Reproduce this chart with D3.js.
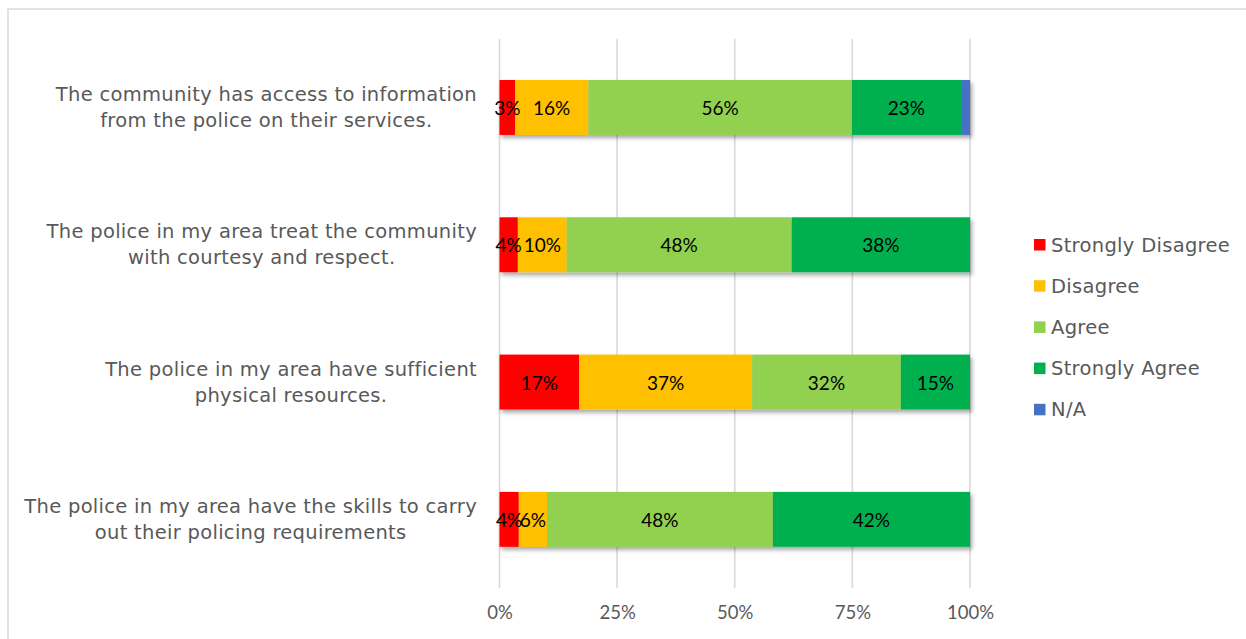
<!DOCTYPE html>
<html>
<head>
<meta charset="utf-8">
<script src="https://cdn.jsdelivr.net/npm/d3@7"></script>
<style>
  html, body { margin: 0; padding: 0; background: #fff; }
  svg { display: block; }
</style>
</head>
<body>
<svg id="chart" width="1246" height="639"></svg>
<script>
// Survey statements (top to bottom), each split into two display lines
const categories = [
  "The community has access to information from the police on their services.",
  "The police in my area treat the community with courtesy and respect.",
  "The police in my area have sufficient physical resources.",
  "The police in my area have the skills to carry out their policing requirements"
];
const categoryLines = [
  ["The community has access to information", "from the police on their services."],
  ["The police in my area treat the community", "with courtesy and respect."],
  ["The police in my area have sufficient", "physical resources."],
  ["The police in my area have the skills to carry", "out their policing requirements"]
];

// Response series (percent of respondents per statement)
const seriesNames = ["Strongly Disagree", "Disagree", "Agree", "Strongly Agree", "N/A"];
const stronglyDisagree = [3.3, 3.9, 16.9, 4.1];
const disagree         = [15.6, 10.4, 36.8, 6.0];
const agree            = [56.0, 47.8, 31.6, 48.0];
const stronglyAgree    = [23.2, 37.9, 14.7, 41.9];
const notApplicable    = [1.9, 0, 0, 0];

const seriesColors = ["#FF0000", "#FFC000", "#92D050", "#00B050", "#4472C4"];
const tickValues = [0, 25, 50, 75, 100];

const seriesValues = [stronglyDisagree, disagree, agree, stronglyAgree, notApplicable];
const rows = categories.map((c, i) => {
  const r = { category: c };
  seriesNames.forEach((s, j) => { r[s] = seriesValues[j][i]; });
  return r;
});
const stacked = d3.stack().keys(seriesNames)(rows);

const svg = d3.select("#chart");

// chart-area frame
svg.append("rect")
  .attr("x", 8).attr("y", 9)
  .attr("width", 1260).attr("height", 660)
  .attr("fill", "#fff")
  .attr("stroke", "#d9d9d9").attr("stroke-width", 1.5);

const defs = svg.append("defs");
const shadow = defs.append("filter").attr("id", "barShadow")
  .attr("x", "-5%").attr("y", "-20%").attr("width", "115%").attr("height", "150%");
shadow.append("feDropShadow")
  .attr("dx", 2).attr("dy", 3).attr("stdDeviation", 2.2)
  .attr("flood-color", "#000").attr("flood-opacity", 0.35);

const x = d3.scaleLinear().domain([0, 100]).range([499.5, 970]);
const y = d3.scaleBand().domain(categories).range([38.8, 588]).paddingInner(0.6).paddingOuter(0.3);

// vertical gridlines
svg.append("g").selectAll("line").data(tickValues).join("line")
  .attr("x1", d => x(d)).attr("x2", d => x(d))
  .attr("y1", 38.8).attr("y2", 588)
  .attr("stroke", "#d9d9d9").attr("stroke-width", 1.6);

// axis tick labels
const xAxis = d3.axisBottom(x).tickValues(tickValues).tickFormat(d => d + "%").tickSize(0).tickPadding(0);
const gx = svg.append("g").attr("transform", "translate(0,606)").call(xAxis);
gx.select(".domain").remove();
gx.selectAll("text")
  .attr("dy", "0.71em")
  .attr("fill", "#595959")
  .style("font-family", "Lato, 'Open Sans', sans-serif")
  .style("font-size", "18.5px");

// stacked bars
const barGroup = svg.append("g").attr("filter", "url(#barShadow)");
barGroup.selectAll("g").data(stacked).join("g")
  .attr("fill", (d, i) => seriesColors[i])
  .selectAll("rect").data(d => d.map(v => ({ v, cat: v.data.category })))
  .join("rect")
  .attr("x", d => x(d.v[0]))
  .attr("width", d => Math.max(0, x(d.v[1]) - x(d.v[0])))
  .attr("y", d => y(d.cat))
  .attr("height", y.bandwidth());

// data labels (not shown for N/A)
const labelGroup = svg.append("g");
stacked.forEach((s, i) => {
  if (seriesNames[i] === "N/A") return;
  labelGroup.selectAll(null).data(s.filter(d => d[1] - d[0] > 0)).join("text")
    .attr("x", d => (x(d[0]) + x(d[1])) / 2)
    .attr("y", d => y(d.data.category) + y.bandwidth() / 2)
    .attr("text-anchor", "middle")
    .attr("dominant-baseline", "central")
    .attr("fill", "#000")
    .style("font-family", "Lato, 'Open Sans', sans-serif")
    .style("font-size", "19px")
    .text(d => Math.round(d[1] - d[0]) + "%");
});

// category labels: block right-aligned at the plot, lines centred within block
const labelFont = "'DejaVu Sans', sans-serif";
const catGroup = svg.append("g");
categoryLines.forEach((lines, i) => {
  const cy = y(categories[i]) + y.bandwidth() / 2;
  const g = catGroup.append("g");
  const texts = g.selectAll("text").data(lines).join("text")
    .attr("fill", "#595959")
    .style("font-family", labelFont)
    .style("font-size", "19.5px")
    .style("letter-spacing", "0.3px")
    .attr("text-anchor", "middle")
    .attr("y", (d, k) => cy + (k - (lines.length - 1) / 2) * 26)
    .attr("dominant-baseline", "central")
    .text(d => d);
  const maxW = d3.max(texts.nodes(), n => n.getComputedTextLength());
  texts.attr("x", 477 - maxW / 2);
});

// legend
const legend = svg.append("g");
seriesNames.forEach((name, i) => {
  const ly = 245 + i * 41.2;
  legend.append("rect")
    .attr("x", 1034).attr("y", ly - 6)
    .attr("width", 11.5).attr("height", 11.5)
    .attr("fill", seriesColors[i]);
  legend.append("text")
    .attr("x", 1051).attr("y", ly)
    .attr("dominant-baseline", "central")
    .attr("fill", "#595959")
    .style("font-family", labelFont)
    .style("font-size", "19.5px")
    .style("letter-spacing", "0.3px")
    .text(name);
});
</script>
</body>
</html>
